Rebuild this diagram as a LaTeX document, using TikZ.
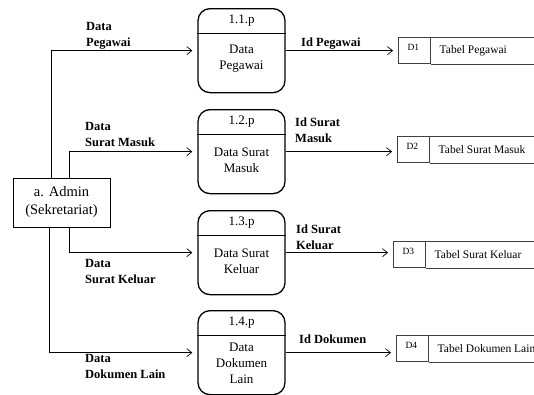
\documentclass[tikz,border=0pt]{standalone}
\usepackage{fontspec}
\setmainfont{Liberation Serif}
\usetikzlibrary{arrows.meta}

\tikzset{
  proc/.style={draw, line width=1.3pt, rounded corners=12pt, minimum width=87pt, minimum height=84pt, anchor=north},
  ptext/.style={align=center, inner sep=0pt, font=\fontsize{13}{16}\selectfont},
  ent/.style={draw, line width=0.8pt, minimum width=97pt, minimum height=49pt, align=center, inner sep=0pt, font=\fontsize{14.5}{18}\selectfont},
  sid/.style={draw=black!75, line width=1pt, minimum width=32pt, minimum height=26pt, anchor=north west, inner sep=0pt,
    text width=14pt, align=left, text depth=6pt, font=\fontsize{9.5}{11}\selectfont},
  sline/.style={draw=black!75, line width=1pt},
  stext/.style={anchor=west, inner sep=0pt, font=\fontsize{11.5}{14}\selectfont},
  flbl/.style={align=left, anchor=north west, inner sep=0pt, font=\bfseries\fontsize{12.5}{16}\selectfont},
  flow/.style={line width=0.7pt, -{Straight Barb[length=5pt,width=8pt]}, shorten >=5pt}
}

\begin{document}
\begin{tikzpicture}[x=1pt, y=-1pt]
    \useasboundingbox (0,0) rectangle (534,394);
    \coordinate (edge) at (534,0);

    % external entity
    \node[ent] (admin) at (61.5,202.5) {a. Admin\\(Sekretariat)};

    % processes
    \node[proc] (p1) at (241.5,8) {};
    \node[proc] (p2) at (241.5,109) {};
    \node[proc] (p3) at (241.5,210) {};
    \node[proc] (p4) at (241.5,310) {};
    \draw[line width=0.8pt] ([yshift=-25pt]p1.north west) -- ([yshift=-25pt]p1.north east);
    \draw[line width=0.8pt] ([yshift=-25pt]p2.north west) -- ([yshift=-25pt]p2.north east);
    \draw[line width=0.8pt] ([yshift=-25pt]p3.north west) -- ([yshift=-25pt]p3.north east);
    \draw[line width=0.8pt] ([yshift=-25pt]p4.north west) -- ([yshift=-25pt]p4.north east);
    \node[ptext] (t1) at ([yshift=-12.5pt]p1.north) {1.1.p};
    \node[ptext] (t2) at ([yshift=-12.5pt]p2.north) {1.2.p};
    \node[ptext] (t3) at ([yshift=-12.5pt]p3.north) {1.3.p};
    \node[ptext] (t4) at ([yshift=-12.5pt]p4.north) {1.4.p};
    \node[ptext] (b1) at ([yshift=-51pt]p1.north) {Data\\Pegawai};
    \node[ptext] (b2) at ([yshift=-51pt]p2.north) {Data Surat\\Masuk};
    \node[ptext] (b3) at ([yshift=-51pt]p3.north) {Data Surat\\Keluar};
    \node[ptext] (b4) at ([yshift=-53pt]p4.north) {Data\\Dokumen\\Lain};

    % data stores
    \node[sid] (d1) at (398,37) {D1};
    \node[sid] (d2) at (397,136) {D2};
    \node[sid] (d3) at (393,241) {D3};
    \node[sid] (d4) at (396,335) {D4};
    \draw[sline] (d1.north east) -- (d1.north east -| edge) (d1.south east) -- (d1.south east -| edge);
    \draw[sline] (d2.north east) -- (d2.north east -| edge) (d2.south east) -- (d2.south east -| edge);
    \draw[sline] (d3.north east) -- (d3.north east -| edge) (d3.south east) -- (d3.south east -| edge);
    \draw[sline] (d4.north east) -- (d4.north east -| edge) (d4.south east) -- (d4.south east -| edge);
    \node[stext] (s1) at ([xshift=8.5pt]d1.east) {Tabel Pegawai};
    \node[stext] (s2) at ([xshift=8.5pt]d2.east) {Tabel Surat Masuk};
    \node[stext] (s3) at ([xshift=8.5pt]d3.east) {Tabel Surat Keluar};
    \node[stext] (s4) at ([xshift=8.5pt]d4.east) {Tabel Dokumen Lain};

    % flows admin -> process
    \draw[flow] ([xshift=39pt]admin.north west) |- (p1.west);
    \draw[flow] ([xshift=57pt]admin.north west) |- (p2.west);
    \draw[flow] ([xshift=57pt]admin.south west) |- (p3.west);
    \draw[flow] ([xshift=37pt]admin.south west) |- (p4.west);
    \node[flbl] (l1) at (86,22) {Data\\Pegawai};
    \node[flbl] (l2) at (85,122) {Data\\Surat Masuk};
    \node[flbl] (l3) at (85,259) {Data\\Surat Keluar};
    \node[flbl] (l4) at (85,354) {Data\\Dokumen Lain};

    % flows process -> store
    \draw[flow] (p1.east) -- (p1.east -| d1.west);
    \draw[flow] (p2.east) -- (p2.east -| d2.west);
    \draw[flow] (p3.east) -- (p3.east -| d3.west);
    \draw[flow] (p4.east) -- (p4.east -| d4.west);
    \node[flbl] (i1) at (301,38) {Id Pegawai};
    \node[flbl] (i2) at (295,118) {Id Surat\\Masuk};
    \node[flbl] (i3) at (296,225) {Id Surat\\Keluar};
    \node[flbl] (i4) at (299,335) {Id Dokumen};
\end{tikzpicture}
\end{document}
